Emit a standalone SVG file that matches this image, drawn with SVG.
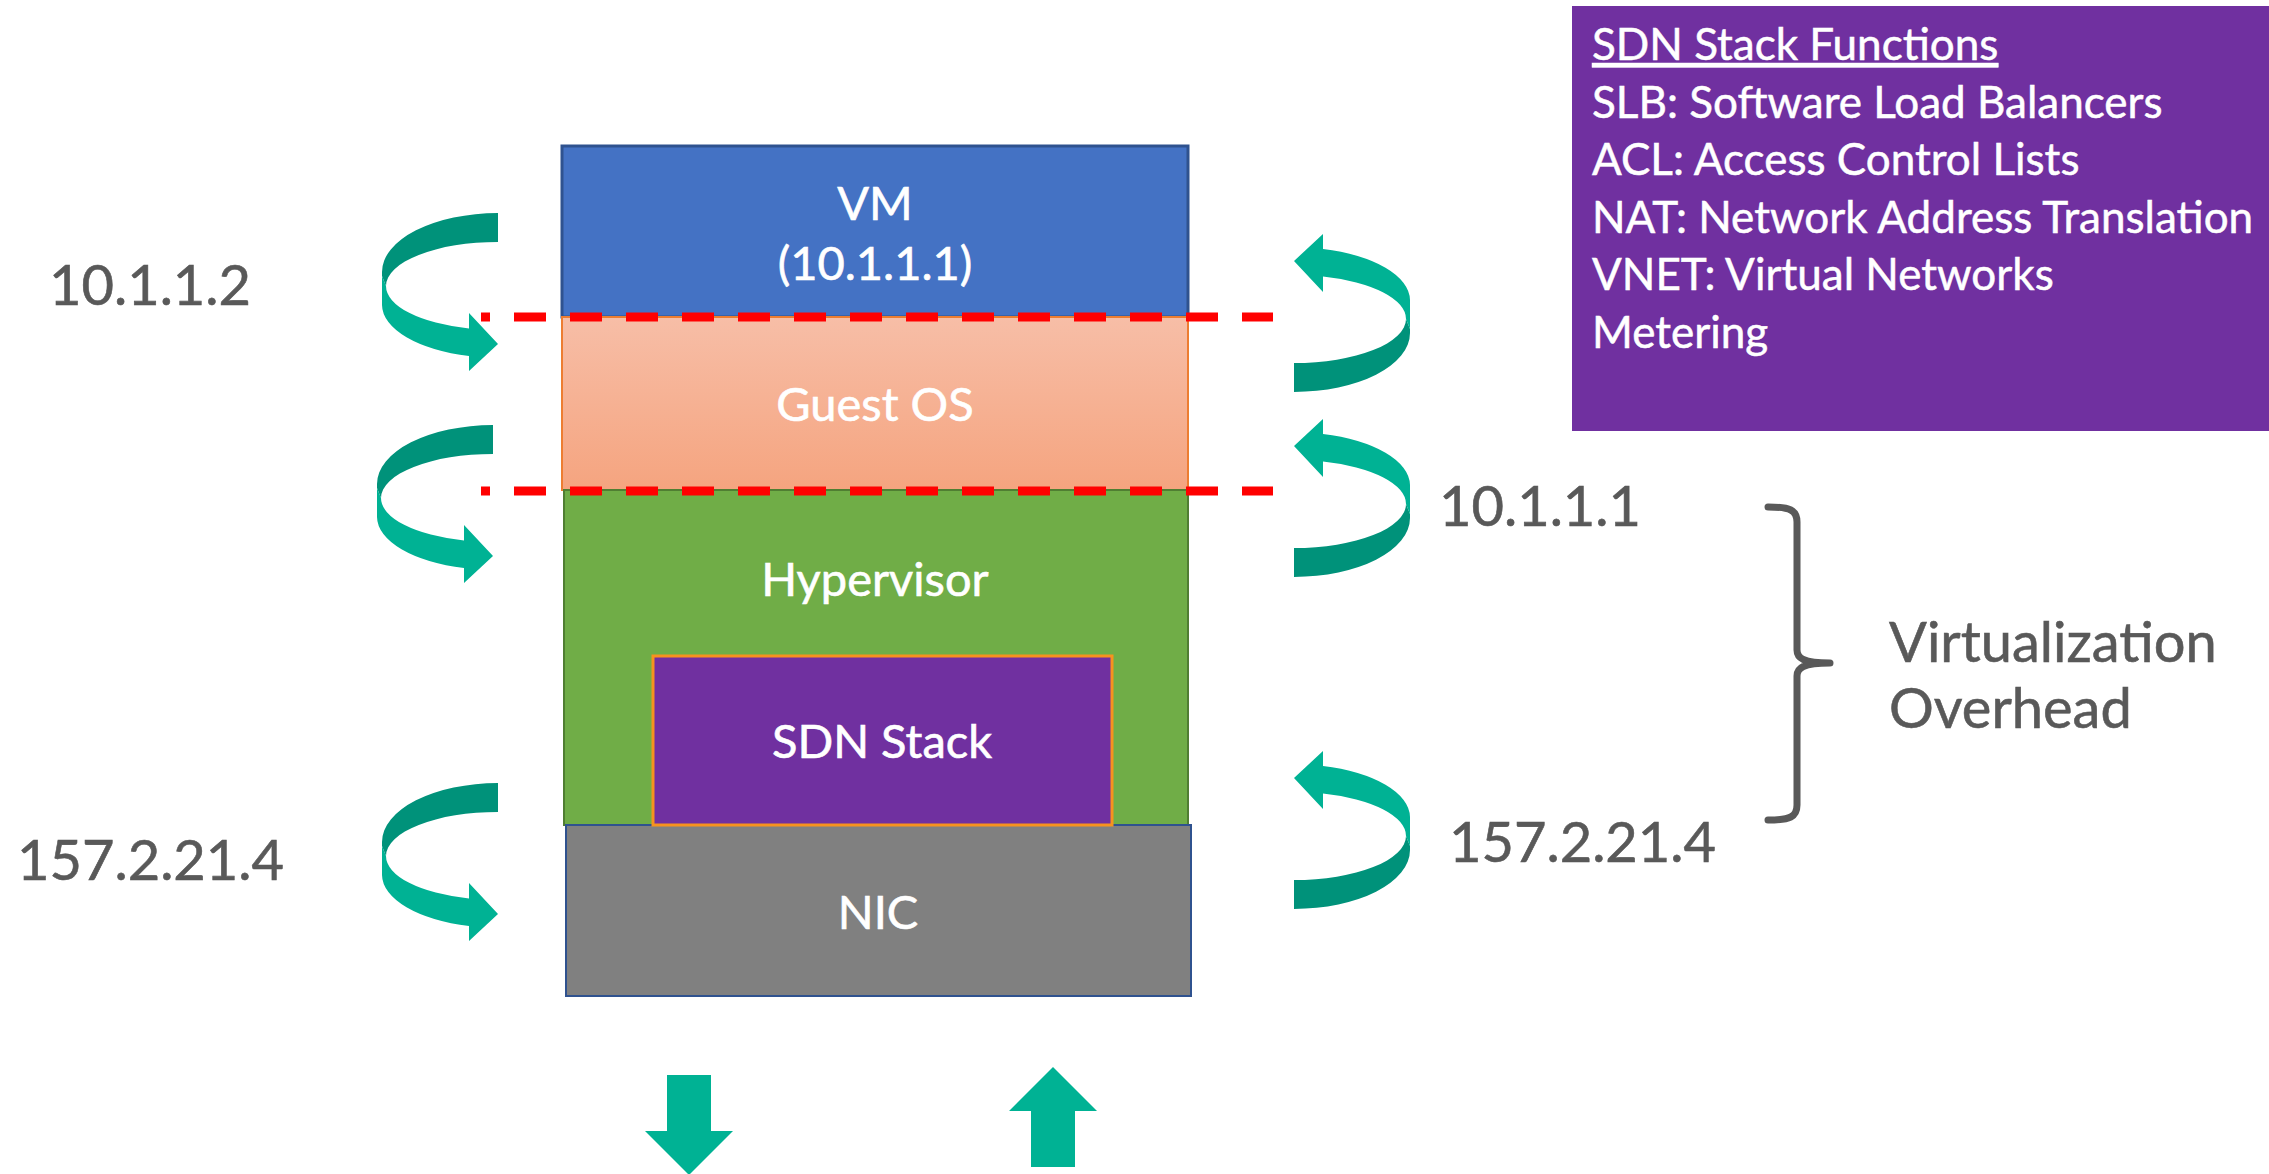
<svg xmlns="http://www.w3.org/2000/svg" width="2269" height="1174" viewBox="0 0 2269 1174">
  <defs>
    <linearGradient id="gosGrad" x1="0" y1="0" x2="0" y2="1">
      <stop offset="0" stop-color="#F7BEA7"/>
      <stop offset="1" stop-color="#F5A47F"/>
    </linearGradient>
    <g id="curlL">
      <path class="dark" d="M 498 213 A 116 59 0 0 0 382 272 L 382 276 L 386 286 A 112 44 0 0 1 498 242 Z"/>
      <path class="light" d="M 382 276 L 382 305 A 116 53 0 0 0 469 356 L 469 371 L 498 344 L 469 313 L 469 328.5 A 112 44 0 0 1 386 286 Z"/>
    </g>
  </defs>
  <style>
    .lbl { font-family: Lato, "Liberation Sans", sans-serif; fill: #ffffff; stroke: #ffffff; stroke-width: 0.6; font-size: 47px; text-anchor: middle; }
    .ip { font-family: Lato, "Liberation Sans", sans-serif; fill: #595959; stroke: #595959; stroke-width: 0.6; font-size: 56px; }
    .fn { font-family: Lato, "Liberation Sans", sans-serif; fill: #ffffff; stroke: #ffffff; stroke-width: 0.5; font-size: 44px; }
    .dark { fill: #00927A; }
    .light { fill: #00B294; }
    .red { stroke: #FF0000; stroke-width: 9; stroke-dasharray: 32 24; stroke-dashoffset: 23; fill: none; }
  </style>

  <g id="vm">
    <rect x="562" y="146" width="626" height="171" fill="#4472C4" stroke="#2F528F" stroke-width="3"/>
    <text class="lbl" x="875" y="220">VM</text>
    <text class="lbl" x="875" y="280">(10.1.1.1)</text>
  </g>
  <g id="guest-os">
    <rect x="562" y="317" width="626" height="173" fill="url(#gosGrad)" stroke="#ED7D31" stroke-width="2"/>
    <text class="lbl" x="875" y="421">Guest OS</text>
  </g>
  <g id="hypervisor">
    <rect x="564" y="490" width="624" height="335" fill="#70AD47" stroke="#507E32" stroke-width="2"/>
    <text class="lbl" x="875" y="596">Hypervisor</text>
  </g>
  <g id="nic">
    <rect x="566" y="825" width="625" height="171" fill="#808080" stroke="#2F528F" stroke-width="2"/>
    <text class="lbl" x="878" y="929">NIC</text>
  </g>
  <g id="sdn-stack">
    <rect x="653" y="656" width="459" height="169" fill="#7030A0" stroke="#F7921E" stroke-width="3"/>
    <text class="lbl" x="882" y="758">SDN Stack</text>
  </g>

  <g id="connectors">
    <line class="red" x1="481" y1="317" x2="1273" y2="317"/>
    <line class="red" x1="481" y1="491" x2="1273" y2="491"/>
    <use href="#curlL"/>
    <use href="#curlL" transform="translate(-5,212)"/>
    <use href="#curlL" transform="translate(0,570)"/>
    <use href="#curlL" transform="translate(1792,605) rotate(180)"/>
    <use href="#curlL" transform="translate(1792,790) rotate(180)"/>
    <use href="#curlL" transform="translate(1792,1122) rotate(180)"/>
    <polygon class="light" points="667,1075 711,1075 711,1131 733,1131 689,1175 645,1131 667,1131"/>
    <polygon class="light" points="1053,1067 1097,1111 1075,1111 1075,1167 1031,1167 1031,1111 1009,1111"/>
  </g>

  <g id="ip-labels">
    <text class="ip" x="49" y="305">10.1.1.2</text>
    <text class="ip" x="1439" y="526">10.1.1.1</text>
    <text class="ip" x="17" y="880">157.2.21.4</text>
    <text class="ip" x="1449" y="862">157.2.21.4</text>
  </g>

  <g id="overhead">
    <path d="M 1768 507 C 1790 507 1797 510 1797 522 L 1797 650 C 1797 658 1803 663 1830 663 M 1830 663 C 1803 663 1797 668 1797 676 L 1797 805 C 1797 817 1790 820 1768 820" fill="none" stroke="#595959" stroke-width="7" stroke-linecap="round"/>
    <text class="ip" x="1889" y="662" font-size="57">Virtualization</text>
    <text class="ip" x="1889" y="728" font-size="57">Overhead</text>
  </g>

  <g id="sdn-functions">
    <rect x="1572" y="6" width="697" height="425" fill="#7030A0"/>
    <text class="fn" x="1592" y="60" text-decoration="underline">SDN Stack Functions</text>
    <text class="fn" x="1592" y="118">SLB: Software Load Balancers</text>
    <text class="fn" x="1592" y="175">ACL: Access Control Lists</text>
    <text class="fn" x="1592" y="233">NAT: Network Address Translation</text>
    <text class="fn" x="1592" y="290">VNET: Virtual Networks</text>
    <text class="fn" x="1592" y="348">Metering</text>
  </g>
</svg>
